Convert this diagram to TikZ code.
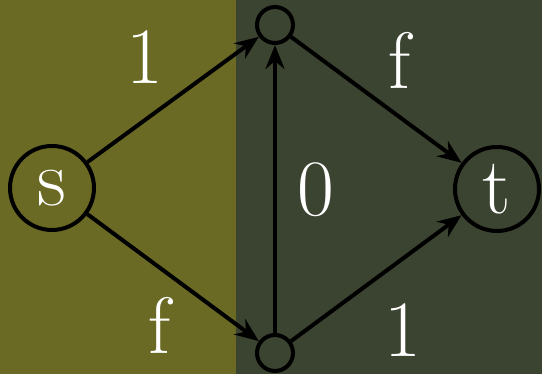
\documentclass[tikz,border=0pt]{standalone}
\usetikzlibrary{arrows.meta}
\definecolor{leftcol}{HTML}{6A6A24}
\definecolor{rightcol}{HTML}{3B4430}

\begin{document}
\begin{tikzpicture}[
  x=1pt, y=1pt,
  flow/.style={line width=4pt, -{Stealth[length=24pt, width=19pt, inset=8pt]}},
  bignode/.style={circle, draw=black, line width=4pt, inner sep=0pt, minimum size=84pt,
    text=white, font=\fontsize{80}{82}\selectfont},
  smallnode/.style={circle, draw=black, line width=4pt, inner sep=0pt, minimum size=36pt},
  capnode/.style={text=white, font=\fontsize{80}{82}\selectfont}]

% ---- background --------------------------------------------------------
\fill[leftcol] (0,0) rectangle (236,374);
\fill[rightcol] (236,0) rectangle (542,374);
\useasboundingbox (0,0) rectangle (542,374);

% ---- nodes -------------------------------------------------------------
\node[bignode] (s) at (52,186) {s};
\node[bignode] (t) at (497,185) {t};
\node[smallnode] (a) at (275,349) {};
\node[smallnode] (b) at (275,21) {};

% ---- edges -------------------------------------------------------------
\draw[flow] (s) -- (a);
\draw[flow] (s) -- (b);
\draw[flow] (b) -- (a);
\draw[flow] (a) -- (t);
\draw[flow] (b) -- (t);

% ---- capacities --------------------------------------------------------
\node[capnode] (c1) at (145,317) {1};
\node[capnode] (c2) at (400,314) {f};
\node[capnode] (c3) at (316,184) {0};
\node[capnode] (c4) at (160,49) {f};
\node[capnode] (c5) at (403,44) {1};

\end{tikzpicture}
\end{document}
